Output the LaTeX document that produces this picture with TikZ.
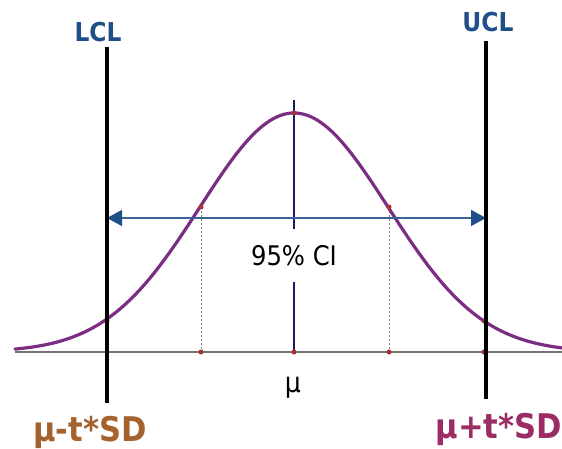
\documentclass[tikz,border=0pt]{standalone}
\usepackage{fontspec}
\usetikzlibrary{arrows.meta}
\newfontfamily\tahreg[FakeStretch=0.9]{DejaVu Sans}
\newfontfamily\tahbold[FakeStretch=0.9]{DejaVu Sans Bold}
\definecolor{clblue}{HTML}{1F4E89}
\definecolor{linblue}{HTML}{3A6496}
\definecolor{curvepurple}{HTML}{7B2D83}
\definecolor{lowbrown}{HTML}{A4632E}
\definecolor{upmagenta}{HTML}{9B2D64}
\definecolor{navy}{HTML}{1A1A5E}
\definecolor{dotred}{HTML}{A83232}
\tikzset{
  limitline/.style={line width=4pt, black},
  cllabel/.style={font=\tahbold\fontsize{26}{28}\selectfont, text=clblue, inner sep=0},
  boundlabel/.style={font=\tahbold\fontsize{34}{36}\selectfont, inner sep=0},
  dropline/.style={gray, line width=0.8pt, dash pattern=on 2pt off 2pt},
  ptdot/.style={circle, fill=dotred, inner sep=0, minimum size=5pt},
}
\begin{document}
\begin{tikzpicture}[x=1pt,y=-1pt]
\useasboundingbox (0,0) rectangle (562,449);
% coordinates
\coordinate (b0) at (15,352);
\coordinate (b1) at (562,352);
\coordinate (lclTop) at (107,47);
\coordinate (lclBot) at (107,403);
\coordinate (uclTop) at (486,41);
\coordinate (uclBot) at (486,399);
\coordinate (lclMid) at (107,218);
\coordinate (uclMid) at (486,218);
\coordinate (peak) at (294,113);
\coordinate (ctop) at (294,100);
\coordinate (m0) at (294,352);
\coordinate (infl) at (201,207);
\coordinate (infr) at (389,207);
\coordinate (infl0) at (201,352);
\coordinate (infr0) at (389,352);
\coordinate (tr) at (484,321);
\coordinate (tr0) at (484,352);
\coordinate (tl) at (107,321);
\coordinate (tl0) at (107,352);
% baseline
\draw[line width=1.2pt, black!55] (b0) -- (b1);
% drop lines
\draw[dropline] (infl) -- (infl0);
\draw[dropline] (infr) -- (infr0);
\draw[dropline] (tr) -- (tr0);
% curve
\draw[curvepurple, line width=3.2pt, line cap=round]
  plot[domain=15:562, samples=160, smooth] (\x, {352-239*exp(-((\x-294)/94)*((\x-294)/94)/2)});
% 95% CI and centre line
\node[font=\tahreg\fontsize{27}{30}\selectfont, minimum height=53pt, inner sep=0] (ci) at (294,255.5) {95\% CI};
\draw[navy, line width=1.1pt] (ctop) -- (ci.north);
\draw[navy, line width=1.1pt] (ci.south) -- (m0);
% arrow
\draw[linblue, line width=1.3pt, {Triangle[length=15pt,width=16pt,color=clblue]}-{Triangle[length=15pt,width=16pt,color=clblue]}] (lclMid) -- (uclMid);
% dots
\foreach \p in {peak,infl,infr,infl0,infr0,m0,tr,tr0,tl,tl0} \node[ptdot] at (\p) {};
% limit lines
\draw[limitline] (lclTop) -- (lclBot);
\draw[limitline] (uclTop) -- (uclBot);
% labels
\node[cllabel] (lcl) at (98,32) {LCL};
\node[cllabel] (ucl) at (488,22) {UCL};
\node[font=\tahreg\fontsize{28}{30}\selectfont, inner sep=0] (mu) at (293,388) {μ};
\node[boundlabel, text=lowbrown, anchor=west] (lo) at (33,432) {μ-t*SD};
\node[boundlabel, text=upmagenta, anchor=east] (hi) at (562,429) {μ+t*SD};
\end{tikzpicture}
\end{document}
